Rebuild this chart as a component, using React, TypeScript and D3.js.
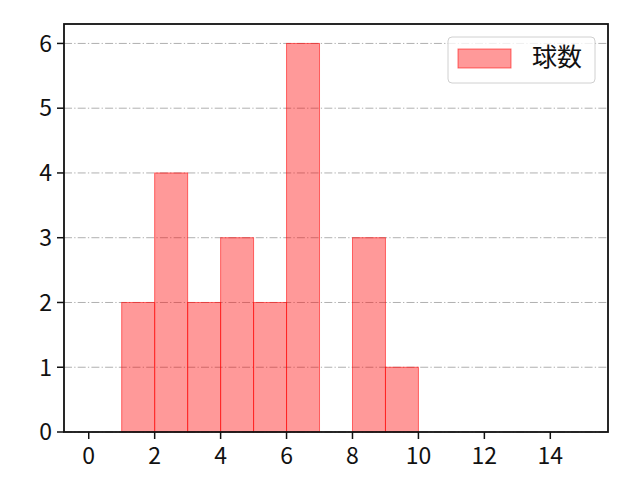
import React from 'react';
import * as d3 from 'd3';

// histogram bins (left edge) and counts
const binStarts = [1, 2, 3, 4, 5, 6, 8, 9];
const counts = [2, 4, 2, 3, 2, 6, 3, 1];
const binWidth = 1;
const xTicks = [0, 2, 4, 6, 8, 10, 12, 14];
const yTicks = [0, 1, 2, 3, 4, 5, 6];
const seriesName = '球数';

const W = 640;
const H = 480;
const m = { left: 64, right: 32, top: 24, bottom: 48 };
const FONT = '"Noto Sans CJK JP", "Noto Sans", sans-serif';

const App: React.FC = () => {
  const x = d3.scaleLinear().domain([-0.75, 15.75]).range([m.left, W - m.right]);
  const y = d3.scaleLinear().domain([0, 6.3]).range([H - m.bottom, m.top]);
  const bars = binStarts.map((s, i) => ({ s, c: counts[i] }));

  return (
    <svg width={W} height={H} style={{ position: 'absolute', left: 0, top: 0, background: '#fff' }}
      fontFamily={FONT}>
      {/* grid */}
      {yTicks.map(t => (
        <line key={'g' + t} x1={m.left} x2={W - m.right} y1={y(t)} y2={y(t)}
          stroke="#b0b0b0" strokeWidth={1} strokeDasharray="8,2.2,1.3,2.2" />
      ))}
      {/* bars */}
      {bars.map(b => (
        <rect key={b.s} x={x(b.s)} y={y(b.c)} width={x(b.s + binWidth) - x(b.s)} height={y(0) - y(b.c)}
          fill="#ff0000" fillOpacity={0.4} stroke="#ff0000" strokeOpacity={0.55} strokeWidth={1} />
      ))}
      {/* frame */}
      <rect x={m.left} y={m.top} width={W - m.left - m.right} height={H - m.top - m.bottom}
        fill="none" stroke="#111" strokeWidth={1.8} />
      {/* x ticks */}
      {xTicks.map(t => (
        <g key={'x' + t} transform={`translate(${x(t)},${H - m.bottom})`}>
          <line y1={0} y2={7} stroke="#111" strokeWidth={1.5} />
          <text y={32} textAnchor="middle" fontSize={23} fill="#111">{t}</text>
        </g>
      ))}
      {/* y ticks */}
      {yTicks.map(t => (
        <g key={'y' + t} transform={`translate(${m.left},${y(t)})`}>
          <line x1={-7} x2={0} stroke="#111" strokeWidth={1.5} />
          <text x={-12} dy="0.36em" textAnchor="end" fontSize={23} fill="#111">{t}</text>
        </g>
      ))}
      {/* legend */}
      <rect x={448} y={37} width={147} height={46} rx={4} fill="#fff" fillOpacity={0.8}
        stroke="#d0d0d0" strokeWidth={1} />
      <rect x={458} y={49} width={53} height={19} fill="#ff0000" fillOpacity={0.4}
        stroke="#ff0000" strokeOpacity={0.55} />
      <text x={532} y={66} fontSize={25} fill="#111">{seriesName}</text>
    </svg>
  );
};

export default App;
